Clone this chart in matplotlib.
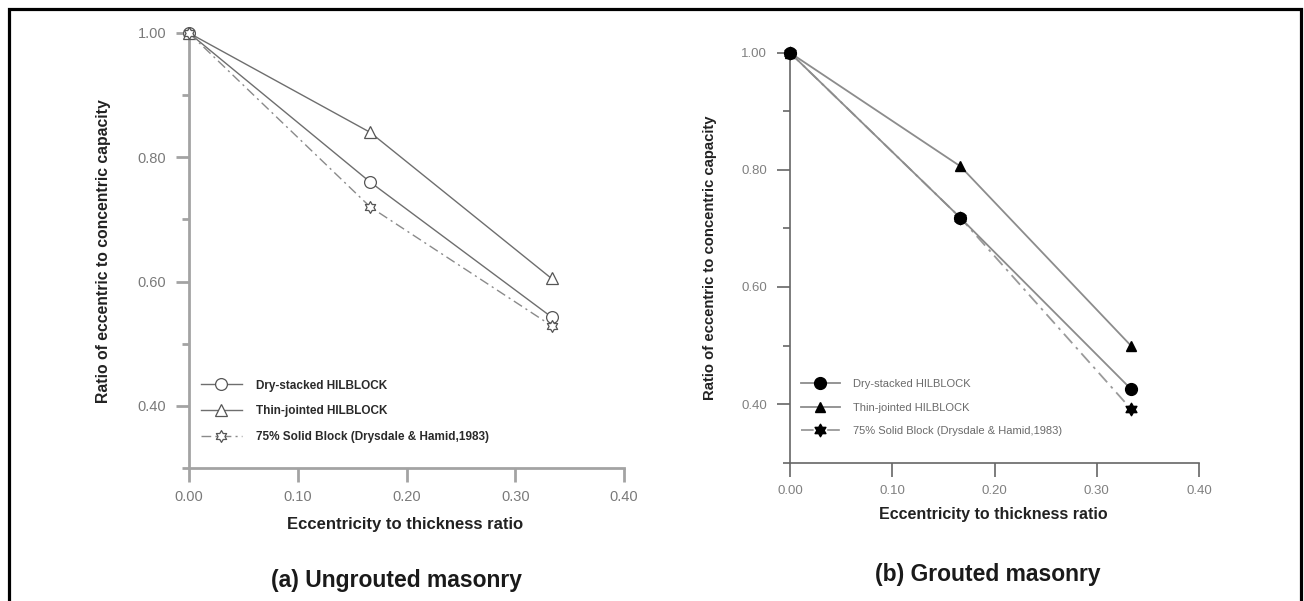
import matplotlib
matplotlib.use("Agg")
import matplotlib.pyplot as plt
from matplotlib.path import Path
from matplotlib.patches import Rectangle

# ---------------- data ----------------
ecc = [0.0, 1/6, 1/3]

# (a) Ungrouted masonry
ungr_dry = [1.00, 0.76, 0.543]
ungr_thin = [1.00, 0.84, 0.605]
ungr_solid = [1.00, 0.72, 0.529]

# (b) Grouted masonry
gr_dry = [1.00, 0.718, 0.426]
gr_thin = [1.00, 0.806, 0.500]
gr_solid = [1.00, 0.718, 0.392]

series_labels = ["Dry-stacked HILBLOCK", "Thin-jointed HILBLOCK",
                 "75% Solid Block (Drysdale & Hamid,1983)"]
x_ticks = [0.0, 0.1, 0.2, 0.3, 0.4]
y_major = [0.4, 0.6, 0.8, 1.0]
y_minor = [0.3, 0.5, 0.7, 0.9]
xlabel = "Eccentricity to thickness ratio"
ylabel = "Ratio of eccentric to concentric capacity"
titles = ["(a) Ungrouted masonry", "(b) Grouted masonry"]

plt.rcParams['font.family'] = ['Liberation Sans', 'DejaVu Sans']

W, H = 1304, 601
fig = plt.figure(figsize=(W / 100, H / 100), dpi=100)

def fx(px):
    return px / W

def fy(py):
    return 1 - py / H

hexagram = Path.unit_regular_star(6, 0.58)
dashdot = (0, (7, 3, 1.5, 3))

def style_axes(ax, spine_col, spine_lw, tick_col, tick_size, pad):
    ax.set_xlim(0, 0.4)
    ax.set_ylim(0.3, 1.0)
    for s in ['top', 'right']:
        ax.spines[s].set_visible(False)
    for s in ['left', 'bottom']:
        ax.spines[s].set_color(spine_col)
        ax.spines[s].set_linewidth(spine_lw)
    ax.set_xticks(x_ticks)
    ax.set_xticklabels(["%.2f" % v for v in x_ticks])
    ax.set_yticks(y_major)
    ax.set_yticklabels(["%.2f" % v for v in y_major])
    ax.set_yticks(y_minor, minor=True)
    ax.tick_params(axis='both', which='major', direction='out', color=spine_col,
                   width=spine_lw, labelcolor=tick_col, labelsize=tick_size)
    ax.tick_params(axis='y', which='major', length=9.5, pad=pad)
    ax.tick_params(axis='x', which='major', length=10, pad=6)
    ax.tick_params(axis='y', which='minor', length=5, width=spine_lw, color=spine_col)
    ax.patch.set_alpha(0)

# ---------------- (a) ----------------
axA = fig.add_axes([fx(189), fy(468), fx(624 - 189), (468 - 33) / H])
style_axes(axA, '#a3a3a3', 2.0, '#7a7a7a', 10.5, 7)
lc = '#6e6e6e'
axA.plot(ecc, ungr_dry, color=lc, lw=1.0, marker='o', ms=8.5, mfc='white',
         mec='#555555', mew=0.9, label=series_labels[0], clip_on=False, zorder=3)
axA.plot(ecc, ungr_thin, color=lc, lw=1.0, marker='^', ms=8, mfc='white',
         mec='#555555', mew=0.9, label=series_labels[1], clip_on=False, zorder=3)
axA.plot(ecc, ungr_solid, color='#8a8a8a', lw=1.0, ls=dashdot, marker=hexagram,
         ms=8.5, mfc='white', mec='#555555', mew=0.9, label=series_labels[2],
         clip_on=False, zorder=3)
legA = axA.legend(loc='upper left', bbox_to_anchor=(fx(201), fy(379.5)),
                  bbox_transform=fig.transFigure, frameon=False, borderpad=0,
                  borderaxespad=0, handlelength=3.45, handletextpad=1.25,
                  labelspacing=1.17, prop={'size': 8.5, 'weight': 'bold'})
for t in legA.get_texts():
    t.set_color('#2a2a2a')

# ---------------- (b) ----------------
axB = fig.add_axes([fx(790), fy(462.7), fx(1199 - 790), (462.7 - 52.7) / H])
style_axes(axB, '#666666', 1.2, '#808080', 9.5, 7)
lc2 = '#8c8c8c'
axB.plot(ecc, gr_solid, color='#9a9a9a', lw=1.3, ls=dashdot, marker=hexagram,
         ms=9, mfc='black', mec='black', label=series_labels[2],
         clip_on=False, zorder=3)
axB.plot(ecc, gr_thin, color=lc2, lw=1.3, marker='^', ms=7.5, mfc='black',
         mec='black', label=series_labels[1], clip_on=False, zorder=3)
axB.plot(ecc, gr_dry, color=lc2, lw=1.3, marker='o', ms=8.5, mfc='black',
         mec='black', label=series_labels[0], clip_on=False, zorder=4)
hB, lB = axB.get_legend_handles_labels()
order = [2, 1, 0]
legB = axB.legend([hB[i] for i in order], [lB[i] for i in order],
                  loc='upper left', bbox_to_anchor=(fx(801), fy(379)),
                  bbox_transform=fig.transFigure, frameon=False, borderpad=0,
                  borderaxespad=0, handlelength=3.5, handletextpad=1.15,
                  labelspacing=1.23, prop={'size': 8})
for t in legB.get_texts():
    t.set_color('#6a6a6a')

# ---------------- labels ----------------
fig.text(fx(104), fy(251), ylabel, rotation=90, ha='center', va='center',
         fontsize=11.3, fontweight='bold', color='#222222')
fig.text(fx(710), fy(258), ylabel, rotation=90, ha='center', va='center',
         fontsize=10.7, fontweight='bold', color='#222222')
fig.text(fx(405.5), fy(524), xlabel, ha='center', va='center',
         fontsize=12, fontweight='bold', color='#222222')
fig.text(fx(993.6), fy(515), xlabel, ha='center', va='center',
         fontsize=11.5, fontweight='bold', color='#222222')
fig.text(fx(396), fy(580), titles[0], ha='center', va='center',
         fontsize=16.5, fontweight='bold', color='#1a1a1a')
fig.text(fx(988), fy(575), titles[1], ha='center', va='center',
         fontsize=16.5, fontweight='bold', color='#1a1a1a')

# ---------------- outer frame ----------------
frame = Rectangle((fx(9), -0.05), fx(1300.5 - 9), fy(9.5) + 0.05,
                  transform=fig.transFigure, fill=False, edgecolor='black',
                  linewidth=2.3, clip_on=False)
fig.patches.append(frame)

fig.savefig("out.png", dpi=100)
